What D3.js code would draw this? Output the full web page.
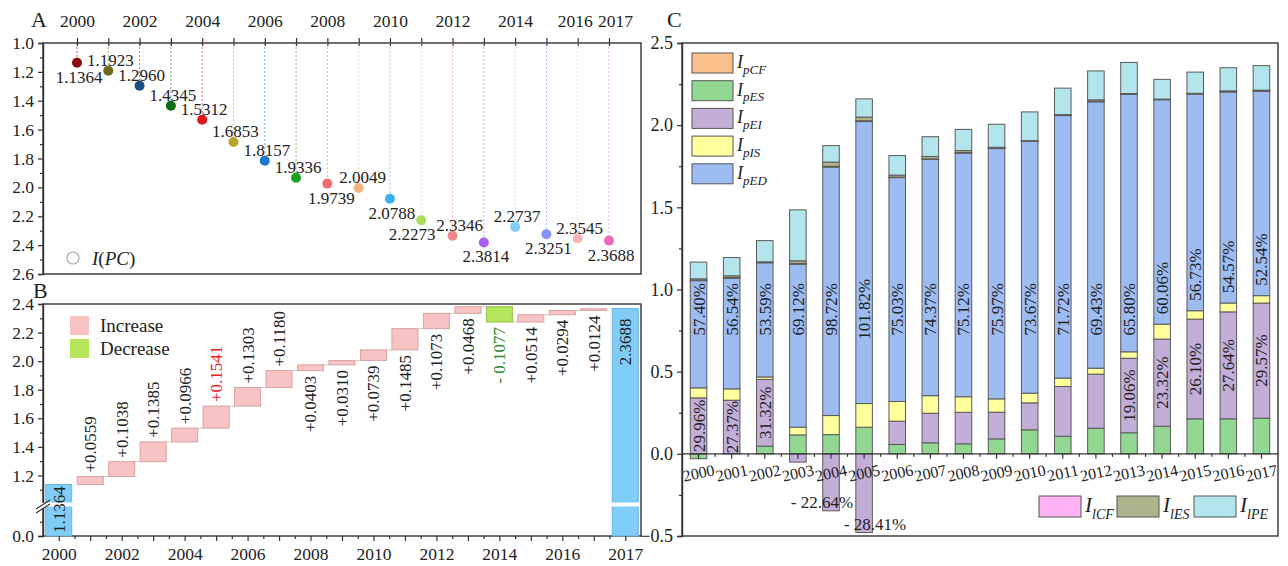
<!DOCTYPE html>
<html>
<head>
<meta charset="utf-8">
<script src="https://cdn.jsdelivr.net/npm/d3@7"></script>
<style>
  body { margin: 0; background: #fff; }
  svg { display: block; font-family: "Liberation Serif", "Times New Roman", serif; }
</style>
</head>
<body>
<svg id="chart" width="1288" height="566"></svg>
<script>
// ---------------- data ----------------
const years = [2000, 2001, 2002, 2003, 2004, 2005, 2006, 2007, 2008,
               2009, 2010, 2011, 2012, 2013, 2014, 2015, 2016, 2017];

// I(PC) per year
const ipc = [1.1364, 1.1923, 1.2960, 1.4345, 1.5312, 1.6853, 1.8157, 1.9336, 1.9739,
             2.0049, 2.0788, 2.2273, 2.3346, 2.3814, 2.2737, 2.3251, 2.3545, 2.3688];
const ipcColors = ["#8b0b0b", "#6e6a1a", "#1a4f7f", "#0d6b12", "#e0141b", "#bba42c",
                   "#1f78c8", "#1aa31a", "#f26d6d", "#f5b27a", "#3cb0f0", "#a8e05c",
                   "#f08a8a", "#a95ef0", "#80cdf5", "#8494f5", "#f7b8b8", "#f06aba"];

// year-on-year change, 2001..2017
const deltas = [0.0559, 0.1038, 0.1385, 0.0966, 0.1541, 0.1303, 0.1180, 0.0403, 0.0310,
                0.0739, 0.1485, 0.1073, 0.0468, -0.1077, 0.0514, 0.0294, 0.0124];
const waterfallTicks = ["2000", "", "2002", "", "2004", "", "2006", "", "2008", "",
                        "2010", "", "2012", "", "2014", "", "2016", "", "2017"];

// decomposition of I(PC)
const pedShare = [57.40, 56.54, 53.59, 69.12, 98.72, 101.82, 75.03, 74.37, 75.12,
                  75.97, 73.67, 71.72, 69.43, 65.80, 60.06, 56.73, 54.57, 52.54];   // % of I(PC)
const peiShare = [29.96, 27.37, 31.32, -3.5, -22.64, -28.41, 7.8, 9.3, 9.7,
                  8.1, 7.9, 13.6, 14.1, 19.06, 23.32, 26.10, 27.64, 29.57];          // % of I(PC)
const peiLabelled = [2000, 2001, 2002, 2004, 2005, 2013, 2014, 2015, 2016, 2017];
const pES = [-0.030, 0.000, 0.047, 0.115, 0.117, 0.162, 0.057, 0.067, 0.061,
             0.091, 0.146, 0.107, 0.156, 0.128, 0.168, 0.213, 0.213, 0.217];
const pIS = [0.061, 0.069, 0.015, 0.047, 0.116, 0.144, 0.120, 0.107, 0.095,
             0.081, 0.059, 0.051, 0.036, 0.039, 0.091, 0.051, 0.054, 0.045];
const pCF = [0.002, 0.002, 0.002, 0.004, 0.004, 0.004, 0.002, 0.002, 0.002,
             0.002, 0.001, 0.001, 0.002, 0.001, 0.001, 0.001, 0.001, 0.001];
const lCF = [0.001, 0.001, 0.001, 0.001, 0.001, 0.001, 0.001, 0.001, 0.001,
             0.001, 0.001, 0.001, 0.001, 0.001, 0.001, 0.001, 0.001, 0.001];
const lES = [0.008, 0.011, 0.003, 0.016, 0.026, 0.022, 0.012, 0.015, 0.012,
             0.005, 0.003, 0.004, 0.009, 0.003, 0.002, 0.002, 0.004, 0.004];
const lPE = [0.102, 0.111, 0.129, 0.310, 0.100, 0.111, 0.119, 0.120, 0.129,
             0.140, 0.175, 0.161, 0.176, 0.189, 0.120, 0.129, 0.141, 0.149];

const compKeys = ["pES", "pEI", "pIS", "pED", "pCF", "lCF", "lES", "lPE"];
const compColors = { pCF: "#f9c08c", pES: "#92d892", pEI: "#c3aed8", pIS: "#ffff9e",
                     pED: "#9dbcf2", lCF: "#ffb3f5", lES: "#aeb48c", lPE: "#b3e6ec" };

// ---------------- setup ----------------
const svg = d3.select("#chart");
const ink = "#222";
const frameColor = "#333";
const fmt1 = d3.format(".1f");

function styleAxis(g, size) {
  g.selectAll("text").attr("font-family", "Liberation Serif, Times New Roman, serif")
    .attr("font-size", size).attr("fill", ink);
  g.selectAll("line").attr("stroke", frameColor).attr("stroke-width", 1.2);
  g.selectAll(".domain").attr("stroke", frameColor).attr("stroke-width", 1.4);
}

function panelLabel(x, y, t) {
  svg.append("text").attr("x", x).attr("y", y).attr("font-size", 22).attr("fill", ink).text(t);
}

// ================= Panel A: I(PC) by year =================
const A = { l: 43, r: 641, t: 43, b: 274 };
const xA = d3.scaleLinear().domain([2000, 2017]).range([77, 609]);
const yA = d3.scaleLinear().domain([1.0, 2.6]).range([A.t, A.b]);
const gA = svg.append("g");

gA.append("rect").attr("x", A.l).attr("y", A.t).attr("width", A.r - A.l).attr("height", A.b - A.t)
  .attr("fill", "none").attr("stroke", frameColor).attr("stroke-width", 1.4);

// the last two year labels sit close together, so they are nudged apart
const topNudge = { 2016: -3, 2017: 6 };
gA.append("g").attr("transform", `translate(0,${A.t})`)
  .call(d3.axisTop(xA).tickValues(years).tickSize(5).tickPadding(11)
    .tickFormat(d => (d % 2 === 0 || d === 2017) ? d : ""))
  .call(g => g.select(".domain").remove())
  .call(g => g.selectAll(".tick line").attr("y1", 3))
  .call(g => g.selectAll(".tick text").attr("x", d => topNudge[d] || 0))
  .call(g => styleAxis(g, 17.5));

gA.append("g").attr("transform", `translate(${A.l},0)`)
  .call(d3.axisLeft(yA).tickValues([1.0, 1.2, 1.4, 1.6, 1.8, 2.0, 2.2, 2.4, 2.6])
    .tickFormat(fmt1).tickSize(5).tickPadding(4))
  .call(g => styleAxis(g, 17.5));
gA.append("g").attr("transform", `translate(${A.l},0)`)
  .call(d3.axisLeft(yA).tickValues([1.1, 1.3, 1.5, 1.7, 1.9, 2.1, 2.3, 2.5]).tickFormat("").tickSize(3))
  .call(g => g.select(".domain").remove())
  .call(g => styleAxis(g, 17.5));

// dotted drop lines from the year axis
gA.selectAll(".drop").data(years).join("line")
  .attr("x1", d => xA(d)).attr("x2", d => xA(d))
  .attr("y1", A.t).attr("y2", (d, i) => yA(ipc[i]) - 4)
  .attr("stroke", (d, i) => ipcColors[i]).attr("stroke-opacity", 0.6)
  .attr("stroke-width", 1).attr("stroke-dasharray", "2,2");

gA.selectAll(".pt").data(years).join("circle")
  .attr("cx", d => xA(d)).attr("cy", (d, i) => yA(ipc[i])).attr("r", 5)
  .attr("fill", (d, i) => ipcColors[i]);

const labelBelow = new Set([2000, 2008, 2010, 2011, 2013, 2015, 2017]);
const labelShift = { 2008: 4, 2011: -9, 2012: 7, 2009: 4 };
gA.selectAll(".ptlab").data(years).join("text")
  .attr("x", d => xA(d) + (labelShift[d] ?? 2))
  .attr("y", (d, i) => labelBelow.has(d) ? yA(ipc[i]) + 20 : yA(ipc[i]) - 5)
  .attr("text-anchor", "middle").attr("font-size", 17).attr("fill", ink)
  .text((d, i) => ipc[i].toFixed(4));

gA.append("circle").attr("cx", 73).attr("cy", 258).attr("r", 6)
  .attr("fill", "none").attr("stroke", "#aaa").attr("stroke-width", 1.2);
const legA = gA.append("text").attr("x", 92).attr("y", 265).attr("font-size", 19).attr("fill", ink);
legA.append("tspan").attr("font-style", "italic").text("I");
legA.append("tspan").text("(");
legA.append("tspan").attr("font-style", "italic").text("PC");
legA.append("tspan").text(")");

panelLabel(31, 27, "A");

// ================= Panel B: waterfall =================
const B = { l: 43, r: 641, t: 304, b: 536 };
const xB = d3.scaleLinear().domain([-0.5, 18.5]).range([B.l, B.r]);
const yB = d3.scaleLinear().domain([0, 0.2, 1.0, 2.4]).range([536, 507.5, 504, 304]);
const bw = 26;
const gB = svg.append("g");

gB.append("rect").attr("x", B.l).attr("y", B.t).attr("width", B.r - B.l).attr("height", B.b - B.t)
  .attr("fill", "none").attr("stroke", frameColor).attr("stroke-width", 1.4);

// increments and decreases
const steps = deltas.map((d, i) => ({ idx: i + 1, start: ipc[i], end: ipc[i] + d, delta: d }));

// connectors between neighbouring steps
gB.selectAll(".conn").data(steps.slice(0, -1)).join("line")
  .attr("x1", d => xB(d.idx) + bw / 2).attr("x2", d => xB(d.idx + 1) - bw / 2)
  .attr("y1", d => yB(d.end)).attr("y2", d => yB(d.end))
  .attr("stroke", "#ccc").attr("stroke-width", 1);

gB.selectAll(".step").data(steps).join("rect")
  .attr("x", d => xB(d.idx) - bw / 2).attr("width", bw)
  .attr("y", d => yB(Math.max(d.start, d.end)))
  .attr("height", d => yB(Math.min(d.start, d.end)) - yB(Math.max(d.start, d.end)))
  .attr("fill", d => d.delta >= 0 ? "#f9c3c3" : "#b4e55a")
  .attr("stroke", d => d.delta >= 0 ? "#d6a3a3" : "#98c04a").attr("stroke-width", 1);

const deltaColor = d => d.idx === 5 ? "#e8201e" : (d.delta < 0 ? "#2e8b2e" : ink);
gB.selectAll(".steplab").data(steps).join("text")
  .attr("transform", d => d.idx <= 7
    ? `translate(${xB(d.idx)},${yB(Math.max(d.start, d.end)) - 4}) rotate(-90)`
    : `translate(${xB(d.idx)},${yB(Math.min(d.start, d.end)) + 5}) rotate(-90)`)
  .attr("text-anchor", d => d.idx <= 7 ? "start" : "end")
  .attr("dy", "0.35em").attr("font-size", 17).attr("fill", deltaColor)
  .text(d => d.delta >= 0 ? "+" + d.delta.toFixed(4) : "- " + Math.abs(d.delta).toFixed(4));

// totals at both ends
const totals = [{ idx: 0, v: ipc[0] }, { idx: 18, v: ipc[ipc.length - 1] }];
gB.selectAll(".total").data(totals).join("rect")
  .attr("x", d => xB(d.idx) - bw / 2).attr("width", bw)
  .attr("y", d => yB(d.v)).attr("height", d => yB(0) - yB(d.v))
  .attr("fill", "#80cdf7").attr("stroke", "#6fb4dc").attr("stroke-width", 1);
// axis break across the totals
gB.selectAll(".gap").data(totals).join("rect")
  .attr("x", d => xB(d.idx) - bw / 2 - 1).attr("width", bw + 2)
  .attr("y", yB(1.0) - 1.5).attr("height", 4).attr("fill", "#fff");
gB.selectAll(".totlab").data(totals).join("text")
  .attr("transform", d => (yB(0) - yB(d.v)) > 150
    ? `translate(${xB(d.idx)},${yB(d.v) + 10}) rotate(-90)`
    : `translate(${xB(d.idx)},${yB(0) - 3}) rotate(-90)`)
  .attr("text-anchor", d => (yB(0) - yB(d.v)) > 150 ? "end" : "start")
  .attr("dy", "0.35em").attr("font-size", 17).attr("fill", ink)
  .text(d => d.v.toFixed(4));

gB.append("g").attr("transform", `translate(${B.l},0)`)
  .call(d3.axisLeft(yB).tickValues([0, 1.2, 1.4, 1.6, 1.8, 2.0, 2.2, 2.4])
    .tickFormat(fmt1).tickSize(5).tickPadding(4))
  .call(g => styleAxis(g, 17.5));
gB.append("g").attr("transform", `translate(${B.l},0)`)
  .call(d3.axisLeft(yB).tickValues([0.1, 1.1, 1.3, 1.5, 1.7, 1.9, 2.1, 2.3]).tickFormat("").tickSize(3))
  .call(g => g.select(".domain").remove())
  .call(g => styleAxis(g, 17.5));

gB.append("g").attr("transform", `translate(0,${B.b})`)
  .call(d3.axisBottom(xB).tickValues(d3.range(19)).tickFormat(i => waterfallTicks[i])
    .tickSize(5).tickPadding(7))
  .call(g => g.select(".domain").remove())
  .call(g => styleAxis(g, 17.5));
gB.append("g").attr("transform", `translate(0,${B.b})`)
  .call(d3.axisBottom(xB).tickValues(d3.range(0.5, 18, 1)).tickFormat("").tickSize(3))
  .call(g => g.select(".domain").remove())
  .call(g => styleAxis(g, 17.5));

// break mark on the value axis
gB.append("rect").attr("x", 40).attr("y", 503).attr("width", 6).attr("height", 5).attr("fill", "#fff");
gB.append("line").attr("x1", 36).attr("y1", 509).attr("x2", 50).attr("y2", 500)
  .attr("stroke", frameColor).attr("stroke-width", 1.2);
gB.append("line").attr("x1", 36).attr("y1", 513).attr("x2", 50).attr("y2", 504)
  .attr("stroke", frameColor).attr("stroke-width", 1.2);

// legend
const legB = [{ t: "Increase", c: "#f9c3c3", y: 316 }, { t: "Decrease", c: "#b4e55a", y: 339 }];
gB.selectAll(".legb").data(legB).join("rect")
  .attr("x", 70).attr("y", d => d.y).attr("width", 19).attr("height", 19).attr("fill", d => d.c);
gB.selectAll(".legbt").data(legB).join("text")
  .attr("x", 100).attr("y", d => d.y + 16).attr("font-size", 19).attr("fill", ink).text(d => d.t);

panelLabel(33, 298, "B");

// ================= Panel C: stacked decomposition =================
const C = { l: 682, r: 1278, t: 43, b: 536 };
const xC = d3.scaleBand().domain(years).range([C.l, C.r]).paddingInner(0.5).paddingOuter(0.25);
const yC = d3.scaleLinear().domain([-0.5, 2.5]).range([C.b, C.t]);
const gC = svg.append("g");

const rows = years.map((y, i) => ({
  year: y,
  pES: pES[i],
  pEI: peiShare[i] / 100 * ipc[i],
  pIS: pIS[i],
  pED: pedShare[i] / 100 * ipc[i],
  pCF: pCF[i],
  lCF: lCF[i],
  lES: lES[i],
  lPE: lPE[i]
}));
const series = d3.stack().keys(compKeys).offset(d3.stackOffsetDiverging)(rows);

gC.append("rect").attr("x", C.l).attr("y", C.t).attr("width", C.r - C.l).attr("height", C.b - C.t)
  .attr("fill", "none").attr("stroke", frameColor).attr("stroke-width", 1.4);

gC.selectAll(".layer").data(series).join("g")
  .attr("fill", s => compColors[s.key])
  .selectAll("rect").data(s => s).join("rect")
  .attr("x", d => xC(d.data.year)).attr("width", xC.bandwidth())
  .attr("y", d => yC(Math.max(d[0], d[1])))
  .attr("height", d => Math.abs(yC(d[0]) - yC(d[1])))
  .attr("stroke", "#5a5a5a").attr("stroke-width", 1);

// zero line with year ticks
gC.append("g").attr("transform", `translate(0,${yC(0)})`)
  .call(d3.axisBottom(xC).tickSize(5).tickFormat(d => d))
  .call(g => g.select(".domain").attr("d", `M${C.l},0H${C.r}`))
  .call(g => g.selectAll(".tick text").attr("y", 0).attr("dy", "0.35em")
    .attr("transform", "translate(0,19) rotate(-12)"))
  .call(g => styleAxis(g, 16));
gC.append("g").attr("transform", `translate(0,${yC(0)})`)
  .selectAll("line").data(years.slice(0, -1)).join("line")
  .attr("x1", d => xC(d) + xC.bandwidth() / 2 + xC.step() / 2)
  .attr("x2", d => xC(d) + xC.bandwidth() / 2 + xC.step() / 2)
  .attr("y1", 0).attr("y2", 3).attr("stroke", frameColor).attr("stroke-width", 1.2);

gC.append("g").attr("transform", `translate(${C.l},0)`)
  .call(d3.axisLeft(yC).tickValues([-0.5, 0, 0.5, 1.0, 1.5, 2.0, 2.5]).tickFormat(fmt1)
    .tickSize(5).tickPadding(4))
  .call(g => styleAxis(g, 18));
gC.append("g").attr("transform", `translate(${C.l},0)`)
  .call(d3.axisLeft(yC).tickValues([-0.25, 0.25, 0.75, 1.25, 1.75, 2.25]).tickFormat("").tickSize(3))
  .call(g => g.select(".domain").remove())
  .call(g => styleAxis(g, 18));

// share labels on the IpED segment
const edLayer = series.find(s => s.key === "pED");
gC.selectAll(".edlab").data(edLayer).join("text")
  .attr("transform", (d, i) => {
    const c = Math.max(d[0] + 0.22, 0.88);
    return `translate(${xC(d.data.year) + xC.bandwidth() / 2},${yC(c)}) rotate(-90)`;
  })
  .attr("text-anchor", "middle").attr("dy", "0.35em").attr("font-size", 17).attr("fill", ink)
  .text((d, i) => pedShare[i].toFixed(2) + "%");

// share labels on the IpEI segment
const eiLayer = series.find(s => s.key === "pEI");
const eiData = eiLayer.map((d, i) => ({ d, i })).filter(o => peiLabelled.includes(years[o.i]));
gC.selectAll(".eilab").data(eiData.filter(o => peiShare[o.i] > 0)).join("text")
  .attr("transform", o => `translate(${xC(years[o.i]) + xC.bandwidth() / 2},${yC((o.d[0] + o.d[1]) / 2)}) rotate(-90)`)
  .attr("text-anchor", "middle").attr("dy", "0.35em").attr("font-size", 17).attr("fill", ink)
  .text(o => peiShare[o.i].toFixed(2) + "%");
const negShift = { 2004: -9, 2005: 11 };
gC.selectAll(".eineg").data(eiData.filter(o => peiShare[o.i] < 0)).join("text")
  .attr("x", o => xC(years[o.i]) + xC.bandwidth() / 2 + (negShift[years[o.i]] || 0))
  .attr("y", o => yC(Math.min(o.d[0], o.d[1]) + 0.053))
  .attr("text-anchor", "middle").attr("dy", "0.35em").attr("font-size", 17).attr("fill", ink)
  .text(o => "- " + Math.abs(peiShare[o.i]).toFixed(2) + "%");

// legends
function subLabel(g, x, y, sub, size, subSize) {
  const t = g.append("text").attr("x", x).attr("y", y).attr("font-size", size)
    .attr("font-style", "italic").attr("fill", ink);
  t.append("tspan").text("I");
  t.append("tspan").attr("dy", size * 0.32).attr("font-size", subSize).text(sub);
}
const legTop = [["pCF", "pCF"], ["pES", "pES"], ["pEI", "pEI"], ["pIS", "pIS"], ["pED", "pED"]];
legTop.forEach(([k, sub], i) => {
  const y0 = 53 + i * 27.7;
  gC.append("rect").attr("x", 692).attr("y", y0).attr("width", 41).attr("height", 20)
    .attr("fill", compColors[k]).attr("stroke", "#555").attr("stroke-width", 1);
  subLabel(gC, 737, y0 + 15, sub, 18, 13);
});
const legBottom = [["lCF", "lCF", 1039], ["lES", "lES", 1117], ["lPE", "lPE", 1194]];
legBottom.forEach(([k, sub, x0]) => {
  gC.append("rect").attr("x", x0).attr("y", 496).attr("width", 42).attr("height", 21)
    .attr("fill", compColors[k]).attr("stroke", "#555").attr("stroke-width", 1);
  subLabel(gC, x0 + 46, 512, sub, 21, 14);
});

panelLabel(667, 27, "C");
</script>
</body>
</html>
